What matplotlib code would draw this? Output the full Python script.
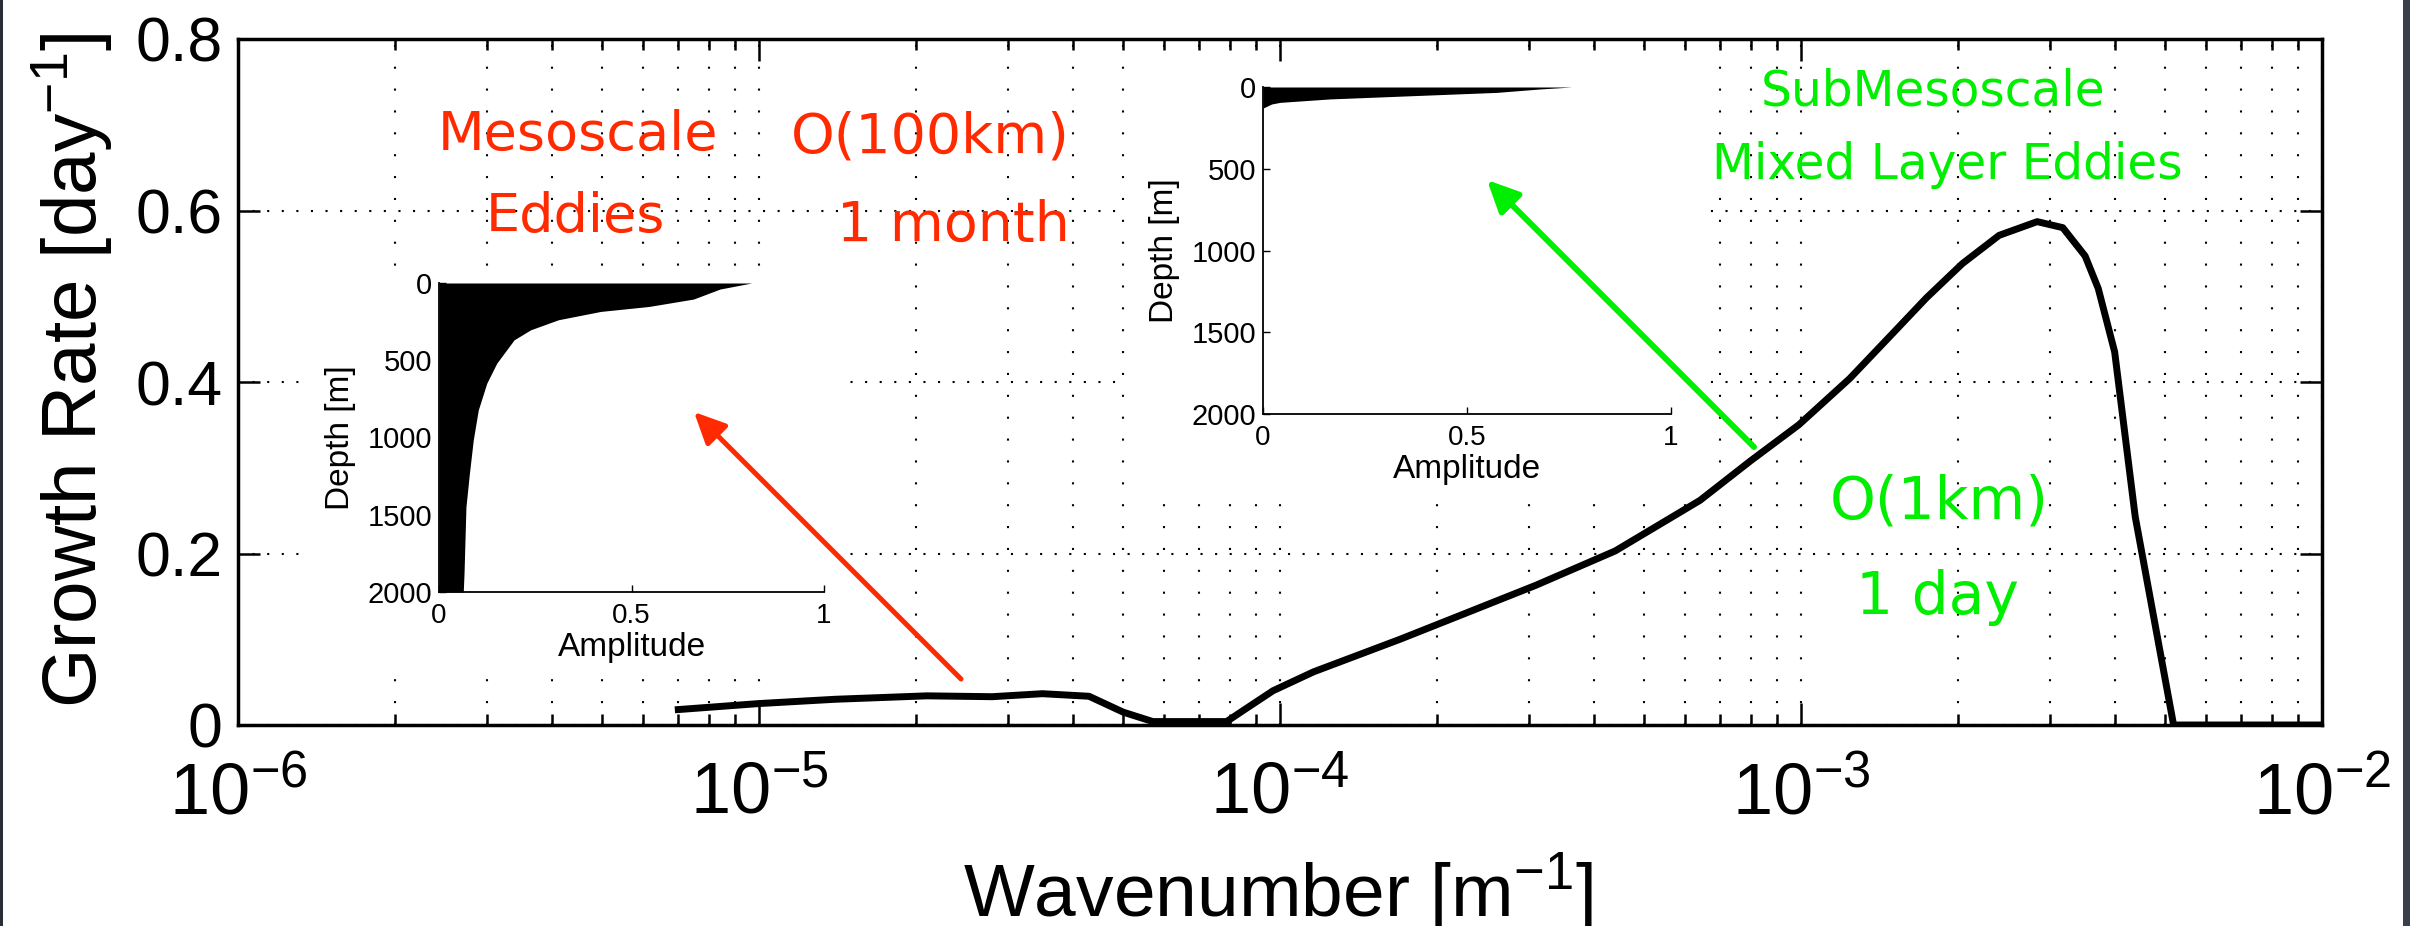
import matplotlib
matplotlib.use('Agg')
import matplotlib.pyplot as plt
from matplotlib.patches import Rectangle, FancyArrowPatch, ArrowStyle
from matplotlib.ticker import LogLocator, NullFormatter

plt.rcParams['font.family'] = ['Liberation Sans', 'DejaVu Sans']
plt.rcParams['mathtext.fontset'] = 'custom'
plt.rcParams['mathtext.rm'] = 'Liberation Sans'
plt.rcParams['mathtext.it'] = 'Liberation Sans:italic'
plt.rcParams['mathtext.bf'] = 'Liberation Sans:bold'

# growth rate curve
wavenumber = [7.0e-6, 1.0e-5, 1.4e-5, 2.1e-5, 2.8e-5, 3.5e-5, 4.3e-5, 5.0e-5, 5.7e-5,
              7.9e-5, 8.6e-5, 9.7e-5, 1.16e-4, 1.7e-4, 2.2e-4, 3.1e-4, 4.4e-4, 6.4e-4,
              8.0e-4, 9.9e-4, 1.24e-3, 1.48e-3, 1.74e-3, 2.04e-3, 2.4e-3, 2.84e-3,
              3.18e-3, 3.51e-3, 3.72e-3, 4.0e-3, 4.38e-3, 5.19e-3, 1.0e-2]
growth = [0.018, 0.025, 0.030, 0.034, 0.033, 0.0365, 0.0335, 0.015, 0.004,
          0.004, 0.019, 0.040, 0.062, 0.100, 0.127, 0.163, 0.203, 0.262,
          0.308, 0.350, 0.404, 0.453, 0.498, 0.538, 0.571, 0.587,
          0.580, 0.547, 0.509, 0.435, 0.243, 0.0, 0.0]

xticks = [1e-6, 1e-5, 1e-4, 1e-3, 1e-2]
xticklabels = ['$10^{-6}$', '$10^{-5}$', '$10^{-4}$', '$10^{-3}$', '$10^{-2}$']
yticks = [0, 0.2, 0.4, 0.6, 0.8]
yticklabels = ['0', '0.2', '0.4', '0.6', '0.8']

# mode profiles for the two insets
meso_depth = [0, 39, 104, 152, 184, 238, 303, 368, 519, 649, 822, 1016, 1232, 1449, 1881, 2000]
meso_amp = [0.812, 0.730, 0.661, 0.545, 0.420, 0.310, 0.238, 0.195, 0.150, 0.124,
            0.102, 0.089, 0.079, 0.070, 0.065, 0.063]
sub_depth = [0, 12, 33, 53, 73, 94, 104, 129, 2000]
sub_amp = [0.757, 0.679, 0.573, 0.368, 0.164, 0.042, 0.021, 0.0, 0.0]
amp_ticks = [0, 0.5, 1]
amp_ticklabels = ['0', '0.5', '1']
depth_ticks = [0, 500, 1000, 1500, 2000]

RED = '#ff2a00'
GREEN = '#00ee00'

W, H = 2410, 926
fig = plt.figure(figsize=(W / 100, H / 100), dpi=100)


def fx(px):
    return px / W


def fy(py):
    return 1 - py / H


# main axes
ax = fig.add_axes([fx(238), fy(725), fx(2322) - fx(238), fy(39) - fy(725)])
ax.plot(wavenumber, growth, color='k', lw=5, solid_joinstyle='round', zorder=6)
ax.set_xscale('log')
ax.set_xticks(xticks)
ax.set_xticklabels(xticklabels)
ax.xaxis.set_minor_locator(LogLocator(base=10, subs=range(2, 10)))
ax.xaxis.set_minor_formatter(NullFormatter())
ax.set_yticks(yticks)
ax.set_yticklabels(yticklabels)
ax.set_xlim(1e-6, 1e-2)
ax.set_ylim(0, 0.8)

ax.xaxis.grid(True, which='both', color='k', lw=1.5, linestyle=(0, (1, 9.5)))
ax.yaxis.grid(True, which='major', color='k', lw=1.5, linestyle=(0, (1, 6)))
ax.set_axisbelow(True)

ax.tick_params(which='both', direction='in', top=True, right=True, width=1.8, color='k')
ax.tick_params(which='major', length=16)
ax.tick_params(which='minor', length=8)
ax.tick_params(axis='x', which='major', labelsize=52, pad=26)
ax.tick_params(axis='y', labelsize=45, pad=11)
for s in ax.spines.values():
    s.set_linewidth(2.5)

# white backgrounds of the pasted inset figures
for x0, y0, x1, y1 in [(306, 272, 845, 676), (1125, 62, 1700, 500)]:
    r = Rectangle((fx(x0), fy(y1)), fx(x1) - fx(x0), fy(y0) - fy(y1),
                  transform=fig.transFigure, facecolor='white', edgecolor='none',
                  zorder=4, clip_on=False)
    ax.add_artist(r)

fig.text(fx(97), fy(370), 'Growth Rate [day$^{-1}$]', rotation=90, rotation_mode='anchor',
         ha='center', va='baseline', fontsize=55)
fig.text(fx(1278), fy(917), 'Wavenumber [m$^{-1}$]', ha='center', va='baseline', fontsize=54)


def inset(rect, depth, amp):
    a = fig.add_axes(rect)
    a.set_facecolor('none')
    a.fill_betweenx(depth, 0, amp, color='k', lw=0)
    a.set_xlim(0, 1)
    a.set_ylim(2000, 0)
    a.set_xticks(amp_ticks)
    a.set_xticklabels(amp_ticklabels)
    a.set_yticks(depth_ticks)
    a.spines[['top', 'right']].set_visible(False)
    for s in ['left', 'bottom']:
        a.spines[s].set_linewidth(1.3)
    a.tick_params(direction='in', length=5, width=1)
    a.tick_params(axis='x', labelsize=20, pad=8)
    a.tick_params(axis='y', labelsize=21, pad=5)
    a.set_xlabel('Amplitude', fontsize=24, labelpad=2)
    a.set_ylabel('Depth [m]', fontsize=24, labelpad=8)
    return a


inset([fx(439), fy(592), fx(824) - fx(439), fy(283) - fy(592)], meso_depth, meso_amp)
inset([fx(1263), fy(414), fx(1671) - fx(1263), fy(87) - fy(414)], sub_depth, sub_amp)

# arrows pointing at the insets
for (x0, y0), (x1, y1), c, lw in [((961, 679), (694, 412), RED, 3.6),
                                  ((1754, 447), (1487, 180), GREEN, 4.3)]:
    arr = FancyArrowPatch((fx(x0), fy(y0)), (fx(x1), fy(y1)), transform=fig.transFigure,
                          arrowstyle=ArrowStyle('-|>', head_length=19, head_width=9),
                          mutation_scale=1, color=c, lw=lw, shrinkA=0, shrinkB=0)
    arr.set_zorder(10)
    fig.add_artist(arr)

# annotations
notes = [('Mesoscale', 578, 135, RED, 39), ('Eddies', 575, 217, RED, 39),
         ('O(100km)', 930, 138, RED, 40), ('1 month', 953, 226, RED, 40),
         ('SubMesoscale', 1933, 92, GREEN, 35), ('Mixed Layer Eddies', 1947, 165, GREEN, 35),
         ('O(1km)', 1939, 502, GREEN, 42), ('1 day', 1937, 598, GREEN, 42)]
for txt, x, y, c, fs in notes:
    fig.text(fx(x), fy(y), txt, color=c, fontsize=fs, family='DejaVu Sans',
             ha='center', va='center', zorder=10)

# dark slide edges
fig.add_artist(Rectangle((0, 0), fx(3), 1, transform=fig.transFigure,
                         facecolor='#2a2c36', edgecolor='none', zorder=11))
fig.add_artist(Rectangle((fx(2403), 0), fx(7), 1, transform=fig.transFigure,
                         facecolor='#3b3e4b', edgecolor='none', zorder=11))

fig.savefig('out.png', dpi=100, facecolor='white')
